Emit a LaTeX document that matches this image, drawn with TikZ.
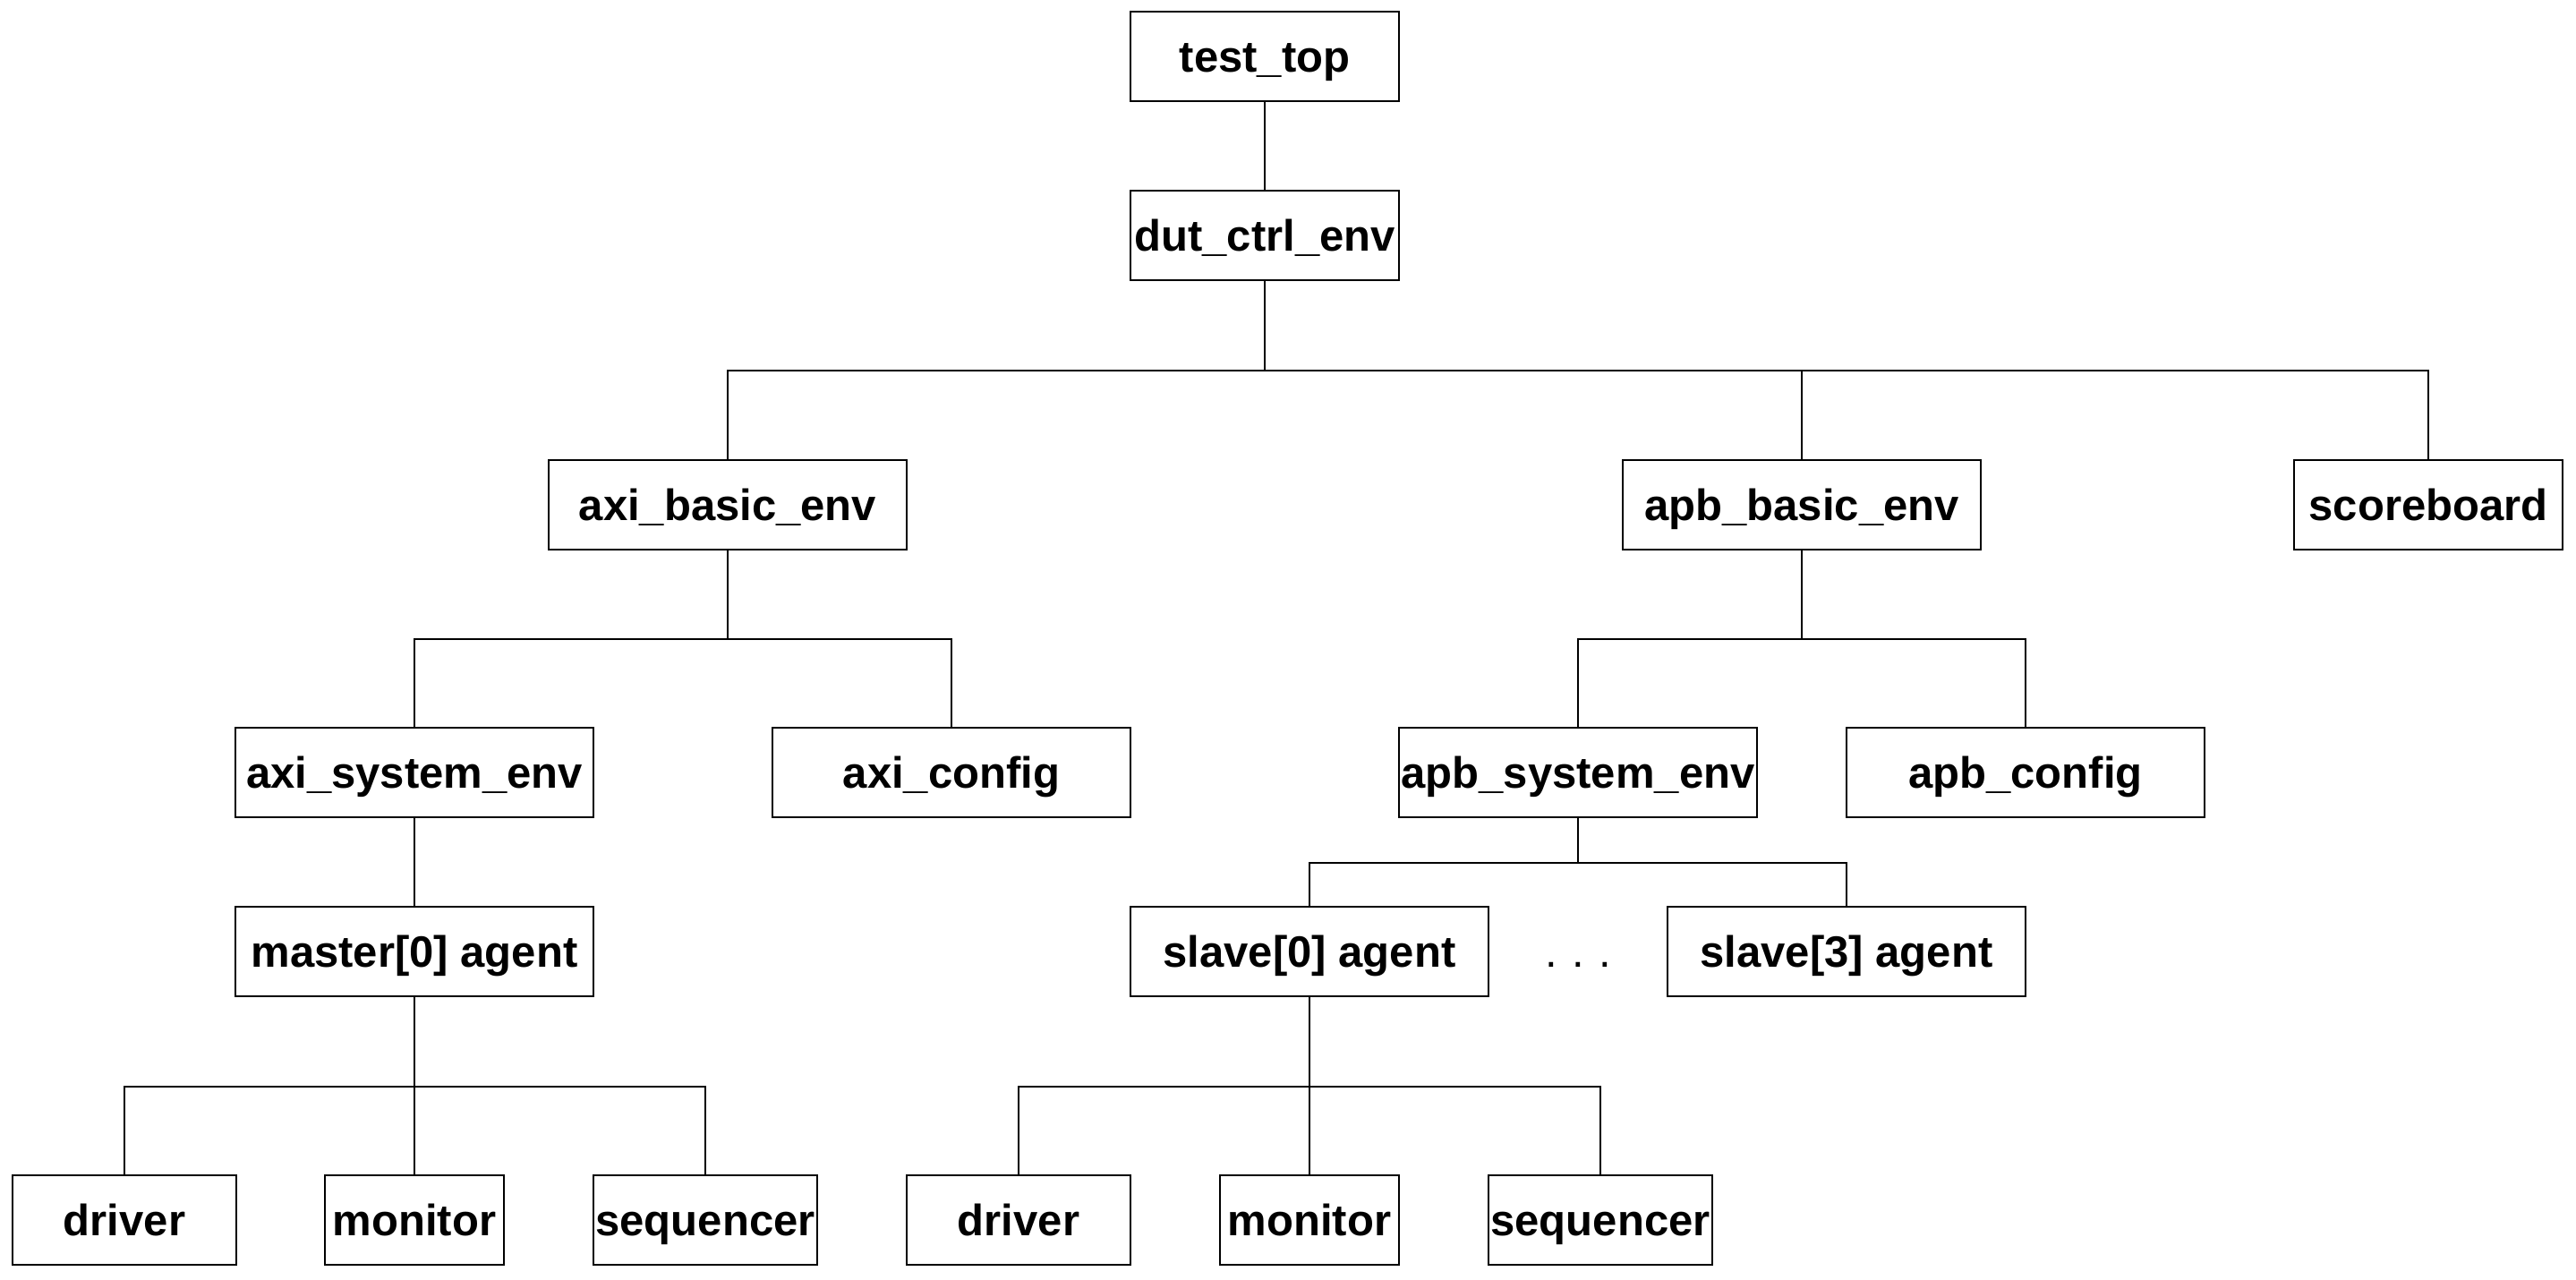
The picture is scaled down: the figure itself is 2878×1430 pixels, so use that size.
\documentclass[tikz,border=0pt]{standalone}
\usepackage{fontspec}
\setmainfont{Liberation Sans}
\begin{document}
\begin{tikzpicture}[x=0.25pt,y=-0.25pt,
  box/.style={draw=black,line width=0.6pt,inner sep=0pt,minimum height=25pt,text height=9.6pt,text depth=0.8pt,font=\fontsize{12.25pt}{14pt}\selectfont\bfseries},
  w300/.style={box,minimum width=75pt},
  w400/.style={box,minimum width=100pt},
  w250/.style={box,minimum width=62.5pt},
  w200/.style={box,minimum width=50pt},
  link/.style={line width=0.6pt,draw=black}]
\useasboundingbox (0,0) rectangle (2878,1430);
% level 0/1
\node[w300] (top) at (1413,63) {test\_top};
\node[w300] (dut) at (1413,263) {dut\_ctrl\_env};
% level 2
\node[w400] (axib) at (813,564) {axi\_basic\_env};
\node[w400] (apbb) at (2013,564) {apb\_basic\_env};
\node[w300] (sb) at (2713,564) {scoreboard};
% level 3
\node[w400] (axis) at (463,863) {axi\_system\_env};
\node[w400] (axic) at (1063,863) {axi\_config};
\node[w400] (apbs) at (1763,863) {apb\_system\_env};
\node[w400] (apbc) at (2263,863) {apb\_config};
% level 4
\node[w400] (mag) at (463,1063) {master[0] agent};
\node[w400] (s0) at (1463,1063) {slave[0] agent};
\node[w400] (s3) at (2063,1063) {slave[3] agent};
\node[font=\fontsize{12.25pt}{14pt}\selectfont, inner sep=0pt,text height=9.6pt,text depth=0.8pt] (dots) at (1763,1063) {.\,\,.\,\,.};
% level 5
\node[w250] (md) at (139,1363) {driver};
\node[w200] (mm) at (463,1363) {monitor};
\node[w250] (ms) at (788,1363) {sequencer};
\node[w250] (sd) at (1138,1363) {driver};
\node[w200] (sm) at (1463,1363) {monitor};
\node[w250] (ss) at (1788,1363) {sequencer};
% connectors
\draw[link] (top) -- (dut);
\draw[link] (dut.south) -- ++(0,100) -| (axib.north);
\draw[link] (dut.south) -- ++(0,100) -| (apbb.north);
\draw[link] (dut.south) -- ++(0,100) -| (sb.north);
\draw[link] (axib.south) -- ++(0,99) -| (axis.north);
\draw[link] (axib.south) -- ++(0,99) -| (axic.north);
\draw[link] (apbb.south) -- ++(0,99) -| (apbs.north);
\draw[link] (apbb.south) -- ++(0,99) -| (apbc.north);
\draw[link] (axis) -- (mag);
\draw[link] (apbs.south) -- ++(0,50) -| (s0.north);
\draw[link] (apbs.south) -- ++(0,50) -| (s3.north);
\draw[link] (mag.south) -- ++(0,100) -| (md.north);
\draw[link] (mag.south) -- ++(0,100) -| (mm.north);
\draw[link] (mag.south) -- ++(0,100) -| (ms.north);
\draw[link] (s0.south) -- ++(0,100) -| (sd.north);
\draw[link] (s0.south) -- ++(0,100) -| (sm.north);
\draw[link] (s0.south) -- ++(0,100) -| (ss.north);
\end{tikzpicture}
\end{document}
